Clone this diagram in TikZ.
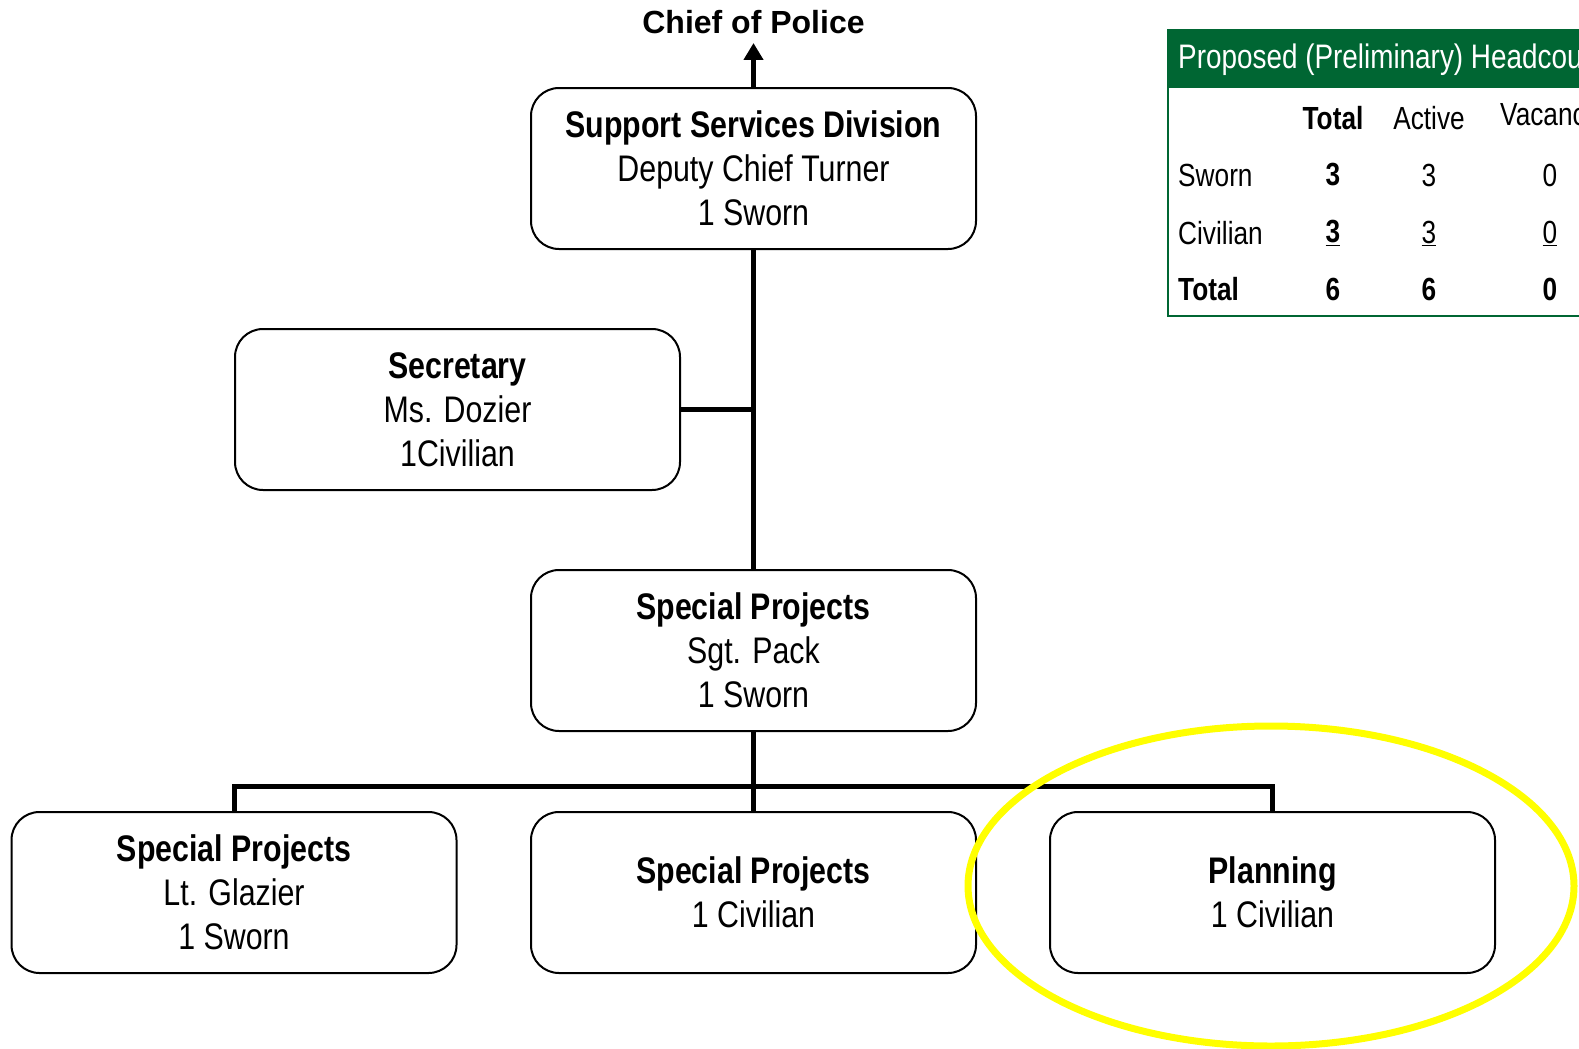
\documentclass[tikz,border=0pt]{standalone}
\usepackage{fontspec}
\setmainfont{Liberation Sans}[FakeStretch=0.82]
\newfontfamily\widefont{Liberation Sans}
\usetikzlibrary{arrows.meta}
\definecolor{tablegreen}{HTML}{006633}
\definecolor{marker}{HTML}{FFFF00}
\tikzset{
  orgbox/.style={draw, line width=2pt, rounded corners=28pt, minimum width=445pt,
    minimum height=161pt, align=center, inner sep=0pt,
    font=\fontsize{37}{44}\selectfont},
  link/.style={line width=5pt},
  cell/.style={inner sep=0pt, font=\fontsize{32}{36}\selectfont},
}
\begin{document}
\begin{tikzpicture}[x=1pt, y=-1pt]
\useasboundingbox (0,0) rectangle (1579,1049);
\clip (0,0) rectangle (1579,1049);
\fill[white] (0,0) rectangle (1579,1049);

% organisation boxes
\node[orgbox] (ssd) at (753.5,168.5) {\textbf{Support Services Division}\\Deputy Chief Turner\\1 Sworn};
\node[orgbox] (sec) at (457.5,409.5) {\textbf{Secretary}\\Ms. Dozier\\1Civilian};
\node[orgbox] (pack) at (753.5,650.5) {\textbf{Special Projects}\\Sgt. Pack\\1 Sworn};
\node[orgbox] (glazier) at (234,892.5) {\textbf{Special Projects}\\Lt. Glazier\\1 Sworn};
\node[orgbox] (mid) at (753.5,892.5) {\textbf{Special Projects}\\1 Civilian};
\node[orgbox] (plan) at (1272.5,892.5) {\textbf{Planning}\\1 Civilian};

% reporting line to the chief
\node[inner sep=0pt, font=\widefont\bfseries\fontsize{32}{36}\selectfont] (chief) at (753.5,22) {Chief of Police};
\coordinate (tip) at (753.5,43);
\draw[link, -{Triangle[width=19pt,length=17pt]}] (ssd.north) -- (tip);

% connectors
\draw[link] (ssd.south) -- (pack.north);
\draw[link] (sec.east) -- (ssd.south |- sec.east);
\coordinate (bar) at (753.5,786);
\draw[link] (pack.south) -- (mid.north);
\draw[link] (glazier.north) -- (glazier.north |- bar) -- (plan.north |- bar) -- (plan.north);

% headcount table
\fill[tablegreen] (1168,30) rectangle (1600,88);
\draw[tablegreen, line width=2.5pt] (1600,30) -- (1168,30) -- (1168,316) -- (1600,316);
\node[cell, anchor=west, text=white, font=\fontsize{34}{38}\selectfont] (title) at (1178,60) {Proposed (Preliminary) Headcount};
\node[cell] (hTot) at (1333,118) {\textbf{Total}};
\node[cell] (hAct) at (1429,118) {Active};
\node[cell, anchor=west] (hVac) at (1500,118) {Vacancy};
\node[cell, anchor=west] (rSw) at (1178,175) {Sworn};
\node[cell, anchor=west] (rCiv) at (1178,233) {Civilian};
\node[cell, anchor=west] (rTot) at (1178,289) {\textbf{Total}};
\node[cell] (swT) at (1333,175) {\textbf{3}};
\node[cell] (swA) at (1429,175) {3};
\node[cell] (swV) at (1550,175) {0};
\node[cell] (cvT) at (1333,233) {\textbf{\underline{3}}};
\node[cell] (cvA) at (1429,233) {\underline{3}};
\node[cell] (cvV) at (1550,233) {\underline{0}};
\node[cell] (ttT) at (1333,289) {\textbf{6}};
\node[cell] (ttA) at (1429,289) {\textbf{6}};
\node[cell] (ttV) at (1550,289) {\textbf{0}};

% highlight around the planning unit
\draw[marker, line width=7pt] (1271,886) ellipse [x radius=303, y radius=160];
\end{tikzpicture}
\end{document}
